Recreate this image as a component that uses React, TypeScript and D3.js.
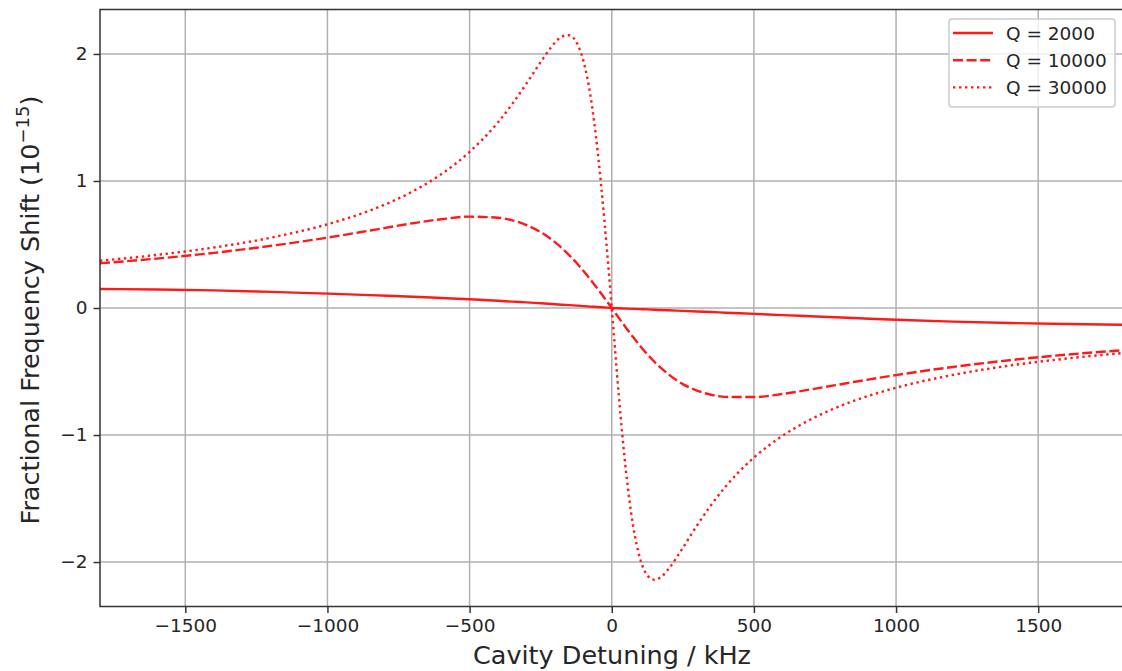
import { useEffect, useRef } from "react";
import * as d3 from "d3";

// cavity detuning (kHz), shared by all three curves
const detuning = [
  -1800, -1600, -1400, -1200, -1000, -850, -700, -600, -500, -400, -350, -300, -250, -200, -175, -150, -125, -100, -75, -50, -25,
  0,
  25, 50, 75, 100, 125, 150, 175, 200, 250, 300, 350, 400, 500, 600, 700, 850, 1000, 1200, 1400, 1600, 1800,
];

// fractional frequency shift (1e-15)
const shiftQ2000 = [
  0.150, 0.146, 0.139, 0.127, 0.113, 0.101, 0.089, 0.079, 0.069, 0.057, 0.050, 0.044, 0.037, 0.030, 0.026, 0.023, 0.019, 0.015, 0.011, 0.008, 0.004,
  0,
  -0.002, -0.005, -0.007, -0.009, -0.011, -0.014, -0.016, -0.018, -0.023, -0.028, -0.032, -0.037, -0.046, -0.056, -0.065, -0.079, -0.093, -0.107, -0.118, -0.126, -0.132,
];
const shiftQ10000 = [
  0.352, 0.389, 0.434, 0.489, 0.554, 0.610, 0.667, 0.699, 0.719, 0.711, 0.690, 0.653, 0.597, 0.519, 0.471, 0.417, 0.358, 0.293, 0.224, 0.152, 0.076,
  0,
  -0.078, -0.155, -0.229, -0.299, -0.364, -0.423, -0.476, -0.523, -0.599, -0.651, -0.683, -0.700, -0.701, -0.677, -0.641, -0.583, -0.528, -0.464, -0.411, -0.367, -0.332,
];
const shiftQ30000 = [
  0.372, 0.418, 0.476, 0.553, 0.659, 0.768, 0.918, 1.053, 1.229, 1.462, 1.606, 1.767, 1.936, 2.088, 2.138, 2.147, 2.095, 1.948, 1.674, 1.242, 0.668,
  0,
  -0.694, -1.284, -1.712, -1.975, -2.105, -2.140, -2.115, -2.054, -1.888, -1.712, -1.550, -1.407, -1.178, -1.007, -0.877, -0.732, -0.628, -0.527, -0.453, -0.398, -0.354,
];

const seriesLabels = ["Q = 2000", "Q = 10000", "Q = 30000"];
const xTicks = [-1500, -1000, -500, 0, 500, 1000, 1500];
const yTicks = [-2, -1, 0, 1, 2];

const W = 1122;
const H = 671;
const left = 100;
const right = 1123.5;
const top = 9.5;
const bottom = 606.5;
const font = "DejaVu Sans, sans-serif";
const red = "#ff1a1a";
const dashes = ["none", "10,3.6", "2.4,3.6"];

export default function App() {
  const ref = useRef<SVGSVGElement>(null);

  useEffect(() => {
    const svg = d3.select(ref.current);
    svg.selectAll("*").remove();

    const x = d3.scaleLinear().domain([-1800, 1800]).range([left, right]);
    const y = d3.scaleLinear().domain([-2.35, 2.35]).range([bottom, top]);
    const fmt = (v: number) => (v < 0 ? "\u2212" + Math.abs(v) : String(v));

    svg.append("defs").append("clipPath").attr("id", "plot-clip")
      .append("rect").attr("x", left).attr("y", top).attr("width", right - left).attr("height", bottom - top);

    // grid
    const grid = svg.append("g");
    grid.selectAll(".gx").data(xTicks).enter().append("line")
      .attr("x1", d => x(d)).attr("x2", d => x(d)).attr("y1", top).attr("y2", bottom)
      .attr("stroke", "#b0b0b0").attr("stroke-width", 1.5);
    grid.selectAll(".gy").data(yTicks).enter().append("line")
      .attr("x1", left).attr("x2", right).attr("y1", d => y(d)).attr("y2", d => y(d))
      .attr("stroke", "#b0b0b0").attr("stroke-width", 1.5);

    // curves
    const all = [shiftQ2000, shiftQ10000, shiftQ30000];
    const line = d3.line<number>()
      .x((_, i) => x(detuning[i]))
      .y(d => y(d))
      .curve(d3.curveMonotoneX);
    const curves = svg.append("g").attr("clip-path", "url(#plot-clip)");
    all.forEach((vals, k) => {
      curves.append("path")
        .attr("d", line(vals))
        .attr("fill", "none")
        .attr("stroke", red)
        .attr("stroke-width", 2.4)
        .attr("stroke-dasharray", dashes[k]);
    });

    // axes
    const xAxis = d3.axisBottom(x).tickValues(xTicks).tickFormat(d => fmt(+d)).tickSize(6.5).tickPadding(6);
    const yAxis = d3.axisLeft(y).tickValues(yTicks).tickFormat(d => fmt(+d)).tickSize(6.5).tickPadding(6);

    const gx = svg.append("g").attr("transform", `translate(0,${bottom})`).call(xAxis);
    const gy = svg.append("g").attr("transform", `translate(${left},0)`).call(yAxis);
    [gx, gy].forEach(g => {
      g.select(".domain").remove();
      g.selectAll("line").attr("stroke", "#333").attr("stroke-width", 1.5);
      g.selectAll("text").attr("font-family", font).attr("font-size", 18.5).attr("fill", "#262626");
    });

    // spines
    svg.append("rect")
      .attr("x", left).attr("y", top).attr("width", right - left).attr("height", bottom - top)
      .attr("fill", "none").attr("stroke", "#333").attr("stroke-width", 1.5);

    // axis labels
    svg.append("text")
      .attr("x", (left + 1122) / 2 + 1).attr("y", 664)
      .attr("text-anchor", "middle")
      .attr("font-family", font).attr("font-size", 25.5).attr("fill", "#262626")
      .text("Cavity Detuning / kHz");

    const yl = svg.append("text")
      .attr("transform", `translate(39,${(top + bottom) / 2 + 2}) rotate(-90)`)
      .attr("text-anchor", "middle")
      .attr("font-family", font).attr("font-size", 25.5).attr("fill", "#262626");
    yl.append("tspan").text("Fractional Frequency Shift (10");
    yl.append("tspan").attr("dy", -10).attr("font-size", 18).text("\u221215");
    yl.append("tspan").attr("dy", 10).text(")");

    // legend
    const lg = svg.append("g");
    lg.append("rect")
      .attr("x", 949).attr("y", 19).attr("width", 166).attr("height", 88).attr("rx", 3)
      .attr("fill", "white").attr("fill-opacity", 0.8)
      .attr("stroke", "#cccccc").attr("stroke-width", 1.5);
    seriesLabels.forEach((lab, k) => {
      const cy = 33 + k * 27.2;
      lg.append("line")
        .attr("x1", 953).attr("x2", 993).attr("y1", cy).attr("y2", cy)
        .attr("stroke", red).attr("stroke-width", 2.4).attr("stroke-dasharray", dashes[k]);
      lg.append("text")
        .attr("x", 1006).attr("y", cy + 6.5)
        .attr("font-family", font).attr("font-size", 18.5).attr("fill", "#262626")
        .text(lab);
    });
  }, []);

  return (
    <svg
      ref={ref}
      width={W}
      height={H}
      style={{ position: "absolute", left: 0, top: 0, background: "white" }}
    />
  );
}
